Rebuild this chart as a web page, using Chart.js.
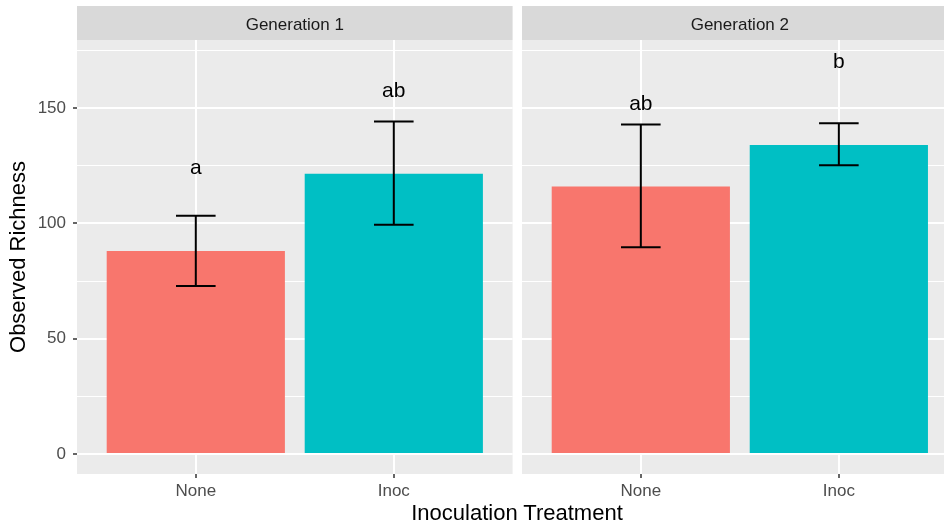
<!DOCTYPE html>
<html>
<head>
<meta charset="utf-8">
<script src="https://cdn.jsdelivr.net/npm/chart.js@4.4.0/dist/chart.umd.min.js"></script>
<style>
  html, body { margin: 0; padding: 0; background: #fff; overflow: hidden; }
  #wrap { position: relative; width: 944px; height: 528px; }
  #gen1-chart { position: absolute; left: 0; top: 0; }
  #gen2-chart { position: absolute; left: 516px; top: 0; }
  #x-title {
    position: absolute; left: 317px; top: 500px; width: 400px;
    text-align: center; font: 22px 'Liberation Sans', Arial, sans-serif;
    line-height: 26px; color: #000;
  }
</style>
</head>
<body>
<div id="wrap">
  <canvas id="gen1-chart" width="516" height="528"></canvas>
  <canvas id="gen2-chart" width="428" height="528"></canvas>
  <div id="x-title">Inoculation Treatment</div>
</div>
<script>
// values
var treatments = ['None', 'Inoc'];
var generations = ['Generation 1', 'Generation 2'];

var gen1Richness = [88, 121.5];
var gen1Lower = [72.8, 99.4];
var gen1Upper = [103.3, 144.2];
var gen1Letters = ['a', 'ab'];
var gen1LetterY = [121.5, 155];

var gen2Richness = [116, 134];
var gen2Lower = [89.6, 125.2];
var gen2Upper = [142.9, 143.4];
var gen2Letters = ['ab', 'b'];
var gen2LetterY = [149.1, 167.2];

var barColours = ['#F8766D', '#00BFC4'];

var FONT = "'Liberation Sans', Arial, sans-serif";

// grey panel + facet strip
var panelPlugin = {
  id: 'panel',
  beforeDraw: function (chart, args, opts) {
    var area = chart.chartArea;
    var ctx = chart.ctx;
    ctx.save();
    ctx.fillStyle = '#EBEBEB';
    ctx.fillRect(area.left, area.top, area.right - area.left, area.bottom - area.top);
    ctx.fillStyle = '#D9D9D9';
    ctx.fillRect(area.left, 6, area.right - area.left, area.top - 6);
    ctx.fillStyle = '#1A1A1A';
    ctx.font = '17px ' + FONT;
    ctx.textAlign = 'center';
    ctx.textBaseline = 'alphabetic';
    ctx.fillText(opts.title, chart.scales.x.getPixelForValue(0.5), 29.5);
    ctx.restore();
  },
};

// error bars and significance letters
var errorBarPlugin = {
  id: 'errorBars',
  afterDatasetsDraw: function (chart, args, opts) {
    var x = chart.scales.x;
    var y = chart.scales.y;
    var ctx = chart.ctx;
    var band = x.getPixelForValue(1) - x.getPixelForValue(0);
    var half = band * 0.1;
    ctx.save();
    ctx.strokeStyle = '#000';
    ctx.lineWidth = 2;
    opts.lower.forEach(function (lo, i) {
      var cx = x.getPixelForValue(i);
      var top = y.getPixelForValue(opts.upper[i]);
      var bot = y.getPixelForValue(lo);
      ctx.beginPath();
      ctx.moveTo(cx, top);
      ctx.lineTo(cx, bot);
      ctx.moveTo(cx - half, top);
      ctx.lineTo(cx + half, top);
      ctx.moveTo(cx - half, bot);
      ctx.lineTo(cx + half, bot);
      ctx.stroke();
    });
    ctx.fillStyle = '#000';
    ctx.font = '21px ' + FONT;
    ctx.textAlign = 'center';
    ctx.textBaseline = 'alphabetic';
    opts.letters.forEach(function (s, i) {
      ctx.fillText(s, x.getPixelForValue(i), y.getPixelForValue(opts.letterY[i]));
    });
    ctx.restore();
  },
};

function makeConfig(idx, values, lower, upper, letters, letterY) {
  var first = idx === 0;
  return {
    type: 'bar',
    data: {
      datasets: [
        {
          data: values.map(function (v, i) { return { x: i, y: v }; }),
          backgroundColor: barColours,
          borderWidth: 0,
          categoryPercentage: 1,
          barPercentage: 0.9,
        },
      ],
    },
    options: {
      responsive: false,
      animation: false,
      devicePixelRatio: 1,
      layout: {
        padding: first ? { top: 40, left: 0, right: 3.4, bottom: 0 } : { top: 40, left: 6, right: 0, bottom: 0 },
      },
      plugins: {
        legend: { display: false },
        tooltip: { enabled: false },
        panel: { title: generations[idx] },
        errorBars: { lower: lower, upper: upper, letters: letters, letterY: letterY },
      },
      scales: {
        x: {
          type: 'linear',
          min: -0.6,
          max: first ? 1.6 : 1.531,
          offset: false,
          afterBuildTicks: function (axis) {
            axis.ticks = treatments.map(function (t, i) { return { value: i }; });
          },
          afterFit: function (axis) { axis.height = 54; },
          border: { display: false },
          grid: {
            offset: false,
            color: '#FFFFFF',
            lineWidth: 2,
            tickColor: '#333333',
            tickLength: 4,
            tickWidth: 1.5,
          },
          ticks: {
            color: '#4D4D4D',
            padding: 3,
            maxRotation: 0,
            font: { family: FONT, size: 17 },
            callback: function (value) { return treatments[value]; },
          },
        },
        y: {
          min: -8.67,
          max: 179.5,
          afterFit: function (axis) { axis.width = first ? 77 : 0; },
          border: { display: false },
          grid: {
            color: '#FFFFFF',
            lineWidth: function (c) { return c.tick && c.tick.value % 50 === 0 ? 2 : 1; },
            drawTicks: first,
            tickColor: function (c) { return c.tick && c.tick.value % 50 === 0 ? '#333333' : 'rgba(0,0,0,0)'; },
            tickLength: 4,
            tickWidth: 1.5,
          },
          ticks: {
            display: first,
            stepSize: 25,
            includeBounds: false,
            color: '#4D4D4D',
            padding: 7,
            font: { family: FONT, size: 17 },
            callback: function (value) { return value % 50 === 0 ? String(value) : ''; },
          },
          title: {
            display: first,
            text: 'Observed Richness',
            color: '#000000',
            padding: { top: 6, bottom: 0 },
            font: { family: FONT, size: 22 },
          },
        },
      },
    },
    plugins: [panelPlugin, errorBarPlugin],
  };
}

var ctx1 = document.getElementById('gen1-chart').getContext('2d');
window.gen1Chart = new Chart(ctx1, makeConfig(0, gen1Richness, gen1Lower, gen1Upper, gen1Letters, gen1LetterY));

var ctx2 = document.getElementById('gen2-chart').getContext('2d');
window.gen2Chart = new Chart(ctx2, makeConfig(1, gen2Richness, gen2Lower, gen2Upper, gen2Letters, gen2LetterY));
</script>
</body>
</html>
